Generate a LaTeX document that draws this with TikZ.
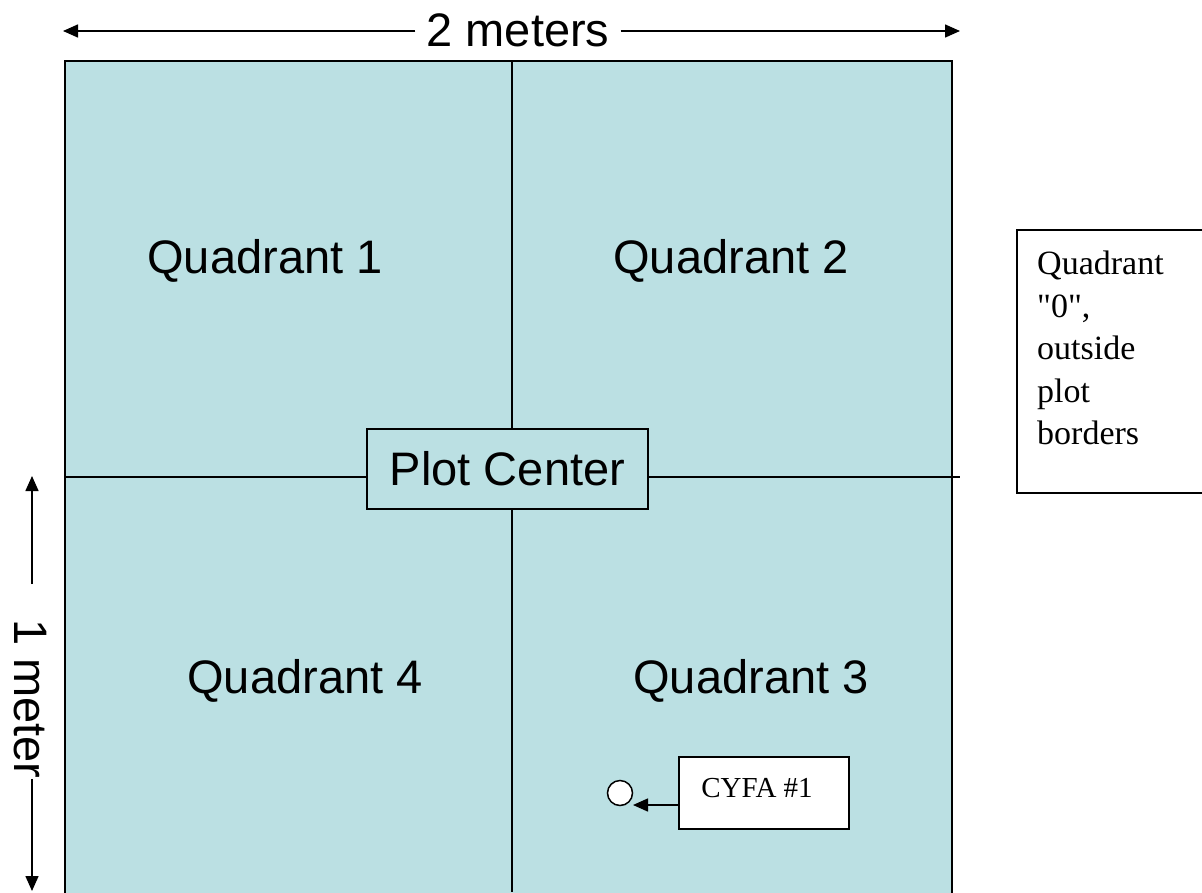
\documentclass[tikz,border=0pt]{standalone}
\usepackage{fontspec}
\setmainfont{Liberation Serif}[Ligatures=TeXOff]
\newfontfamily\arial{Liberation Sans}
\usetikzlibrary{arrows.meta,calc}
\definecolor{plotfill}{RGB}{187,224,227}
\begin{document}
\begin{tikzpicture}[x=1pt,y=-1pt,
  plotline/.style={line width=1.5pt,black},
  arr/.style={line width=1.5pt,-{Triangle[length=15pt,width=13pt]}},
  biglabel/.style={font=\arial\fontsize{47}{50}\selectfont},
  qlabel/.style={biglabel,anchor=base,inner sep=0pt},
  serifbox/.style={draw,line width=1.5pt,fill=white,inner sep=0pt}]
\useasboundingbox (0,0) rectangle (1202,892);
% plot area
\fill[plotfill] (65,61) rectangle (952,895);
\draw[plotline] (65,61) rectangle (952,896);
\draw[plotline] (512,61) -- (512,892);
\draw[plotline] (65,477) -- (960,477);
% plot center
\node[draw,line width=1.5pt,fill=plotfill,biglabel,minimum width=281pt,minimum height=80pt,inner sep=0pt] (pc) at (507.5,469) {Plot Center};
% quadrant labels
\node[qlabel] (q1) at (265,273) {Quadrant 1};
\node[qlabel] (q2) at (731,273) {Quadrant 2};
\node[qlabel] (q4) at (305,693) {Quadrant 4};
\node[qlabel] (q3) at (751,693) {Quadrant 3};
% top dimension
\node[biglabel,anchor=base,inner xsep=11pt] (tm) at (518,46) {2 meters};
\coordinate (tl) at (63,31);
\coordinate (tr) at (960,31);
\draw[arr] (tm.west |- tl) -- (tl);
\draw[arr] (tm.east |- tr) -- (tr);
% left dimension
\node[biglabel,rotate=-90,inner sep=0pt] (om) at (30,699) {1 meter};
\coordinate (lt) at (32,476);
\coordinate (lb) at (32,891);
\draw[arr] ($(om.west -| lt)+(0,-35)$) -- (lt);
\draw[arr] (om.east -| lb) -- (lb);
% quadrant 0 box
\node[serifbox,minimum width=200pt,minimum height=263pt,anchor=north west] (q0box) at (1016,229) {};
\node[anchor=north west,align=left,inner sep=0pt,font=\fontsize{34}{42.5}\selectfont] (q0text) at (1037,251) {Quadrant\\"0",\\outside\\plot\\borders};
% CYFA
\node[serifbox,minimum width=170pt,minimum height=72pt] (cyfa) at (764,793) {};
\node[inner sep=0pt,font=\fontsize{29}{32}\selectfont] (cyfatext) at (757,788) {CYFA \#1};
\node[circle,draw,line width=1.5pt,fill=white,minimum size=25pt,inner sep=0pt] (dot) at (620,793) {};
\coordinate (tip) at (633,805);
\draw[line width=1.5pt,-{Triangle[length=15pt,width=13pt]}] (cyfa.west |- tip) -- (tip);
\end{tikzpicture}
\end{document}
